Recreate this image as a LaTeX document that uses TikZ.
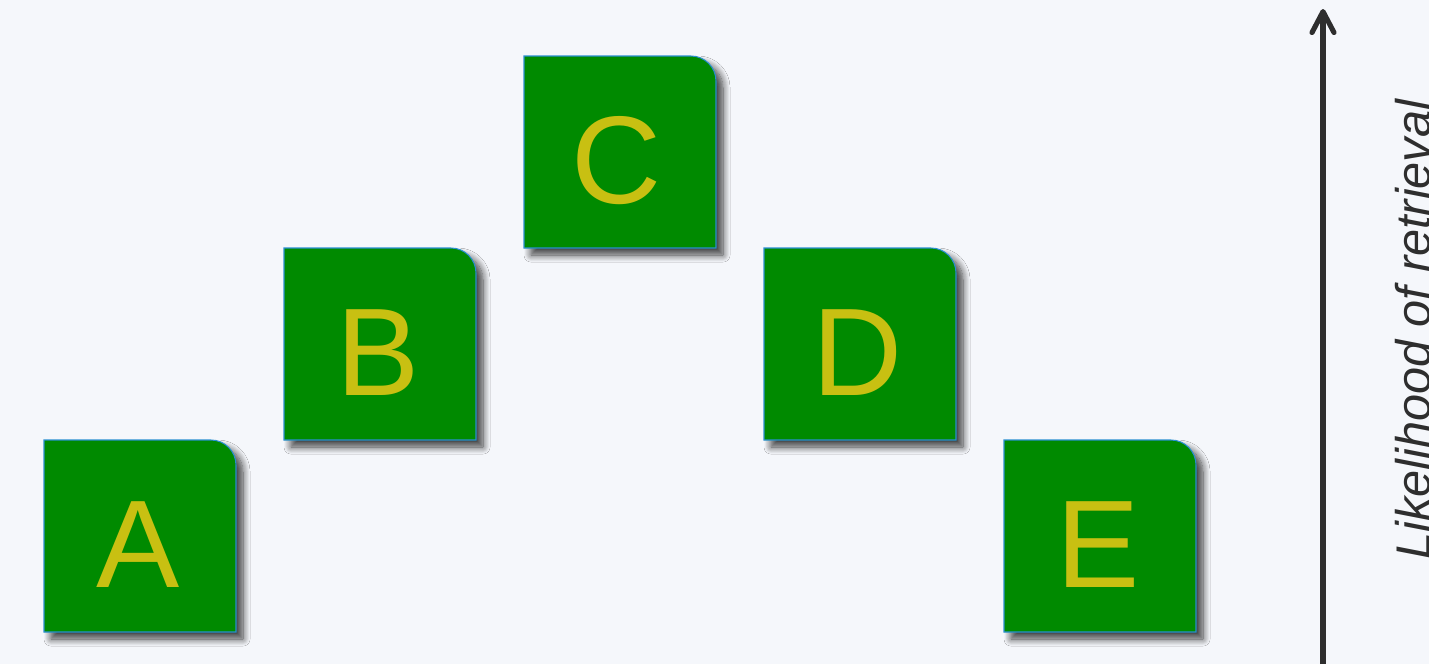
\documentclass[tikz,border=0pt]{standalone}
\usepackage{fontspec}
\setmainfont{Liberation Sans}
\usepackage{tikz}
\usetikzlibrary{arrows.meta,shadows.blur}
\usepackage{xcolor}

\definecolor{pagebg}{HTML}{F5F7FB}
\definecolor{cardgreen}{HTML}{008A00}
\definecolor{cardedge}{HTML}{2A8FD0}
\definecolor{cardtext}{HTML}{C8C012}
\definecolor{axisgray}{HTML}{2E2E2E}

\tikzset{
  card/.style={fill=cardgreen, draw=cardedge, line width=0.6pt,
    blur shadow={shadow xshift=4pt, shadow yshift=-4pt, shadow blur radius=4pt, shadow blur steps=10, shadow opacity=75}},
  cardlabel/.style={text=cardtext, inner sep=0pt, anchor=base, font=\fontsize{71}{78}\selectfont},
  axisline/.style={draw=axisgray, line width=2.9pt, -{Straight Barb[length=0.42cm, width=0.44cm, round]}},
  axislabel/.style={text=axisgray, inner sep=0pt, rotate=90, anchor=base west, font=\fontsize{27.7}{32}\selectfont\itshape}
}

\begin{document}
\begin{tikzpicture}[x=0.02cm, y=-0.02cm]
\fill[pagebg] (0,0) rectangle (1429,664);
\useasboundingbox (0,0) rectangle (1429,664);

%Card A
\filldraw[card] (44,632) -- (44,440) -- (211,440) arc[start angle=90, end angle=0, radius=0.5cm] -- (236,632) -- cycle;
\node[cardlabel] (A) at (138,587) {A};

%Card B
\filldraw[card] (284,440) -- (284,248) -- (451,248) arc[start angle=90, end angle=0, radius=0.5cm] -- (476,440) -- cycle;
\node[cardlabel] (B) at (378,395) {B};

%Card C
\filldraw[card] (524,248) -- (524,56) -- (691,56) arc[start angle=90, end angle=0, radius=0.5cm] -- (716,248) -- cycle;
\node[cardlabel] (C) at (617,203) {C};

%Card D
\filldraw[card] (764,440) -- (764,248) -- (931,248) arc[start angle=90, end angle=0, radius=0.5cm] -- (956,440) -- cycle;
\node[cardlabel] (D) at (858,395) {D};

%Card E
\filldraw[card] (1004,632) -- (1004,440) -- (1171,440) arc[start angle=90, end angle=0, radius=0.5cm] -- (1196,632) -- cycle;
\node[cardlabel] (E) at (1098,587) {E};

%Axis
\coordinate (axisbottom) at (1323,664);
\coordinate (axistop) at (1323,9);
\draw[axisline] (axisbottom) -- (axistop);
\node[axislabel] (likelihood) at (1430,560) {Likelihood of retrieval};
\end{tikzpicture}
\end{document}
